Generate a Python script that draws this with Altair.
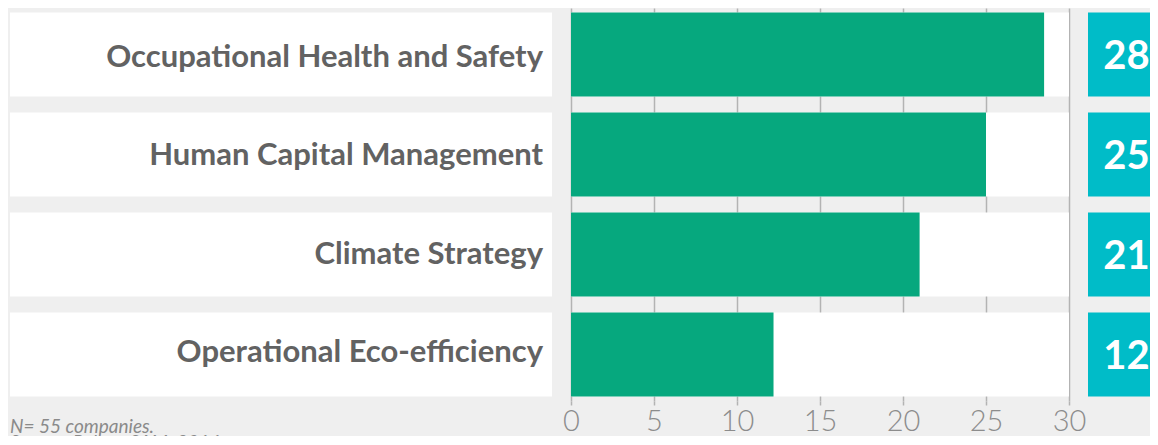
import altair as alt
import pandas as pd

categories = [
    "Occupational Health and Safety",
    "Human Capital Management",
    "Climate Strategy",
    "Operational Eco-efficiency",
]
values = [28.5, 25.0, 21.0, 12.2]
value_labels = ["28", "25", "21", "12"]
axis_max = [30, 30, 30, 30]
tick_values = [0, 5, 10, 15, 20, 25, 30]
footnotes = ["N= 55 companies.", "Source: RobecoSAM, 2016."]
footnote_rows = [0, 1]

df = pd.DataFrame({
    "category": categories,
    "value": values,
    "label": value_labels,
    "maxv": axis_max,
})

BG = "#efefef"
GREEN = "#06a87e"
TEAL = "#00bcc8"
H = 393          # plot height of the bar panels
H_LEFT = 428     # left panel height (rows + footnotes)

band_kw = dict(domain=categories, paddingInner=0.16, paddingOuter=0.045)
yenc = alt.Y("category:N", sort=None, scale=alt.Scale(**band_kw), axis=None)
yenc_left = alt.Y("category:N", sort=None, scale=alt.Scale(range=[0, H], **band_kw), axis=None)

# ---- left panel: category labels on white bands + footnotes
W_LEFT = 542
left_band = alt.Chart(df).mark_bar(color="white").encode(
    y=yenc_left, x=alt.value(0), x2=alt.value(W_LEFT)
)
left_text = alt.Chart(df).mark_text(
    align="right", baseline="middle", font="Lato", fontSize=31,
    fontWeight="bold", color="#626262", dy=1
).encode(y=yenc_left, x=alt.value(W_LEFT - 9), text="category:N")

foot_df = pd.DataFrame({"note": footnotes, "row": footnote_rows})
foot = alt.Chart(foot_df).mark_text(
    align="left", baseline="middle", font="Lato", fontSize=19,
    fontStyle="italic", color="#8a8a8a", clip=True
).encode(
    x=alt.value(0),
    y=alt.Y("row:Q", scale=alt.Scale(domain=[0, 1], range=[419, 435]), axis=None),
    text="note:N",
)
left = alt.layer(left_band, left_text, foot).properties(
    width=W_LEFT, height=H_LEFT
).resolve_scale(y="independent")

# ---- middle panel: bars
W_MID = 498
xscale = alt.Scale(domain=[0, 30], nice=False, zero=True)
xaxis = alt.Axis(
    values=tick_values, grid=True, gridColor="#b3b3b3", gridWidth=1.5,
    domain=False, ticks=True, tickColor="#b3b3b3", tickWidth=1.5, tickSize=4,
    labelFont="Lato", labelFontWeight=300, labelFontSize=29, labelColor="#8c8c8c",
    labelPadding=2, title=None, labelFlush=False,
)
mid_band = alt.Chart(df).mark_bar(color="white").encode(
    y=yenc, x=alt.X("maxv:Q", scale=xscale, axis=xaxis)
)
mid_bar = alt.Chart(df).mark_bar(color=GREEN).encode(
    y=yenc, x=alt.X("value:Q", scale=xscale)
)
mid = alt.layer(mid_band, mid_bar).properties(width=W_MID, height=H)

# ---- right panel: value boxes
W_RIGHT = 62
right_box = alt.Chart(df).mark_bar(color=TEAL).encode(
    y=yenc, x=alt.value(0), x2=alt.value(W_RIGHT)
)
right_text = alt.Chart(df).mark_text(
    align="center", baseline="middle", font="Lato", fontSize=40,
    fontWeight="bold", color="white", dy=2
).encode(y=yenc, x=alt.value(38.5), text="label:N")
right = alt.layer(right_box, right_text).properties(width=W_RIGHT, height=H)

chart = alt.hconcat(left, mid, right, spacing=19, bounds="flush").properties(
    background=BG,
    padding={"left": 2, "top": 0, "right": 0, "bottom": 0},
).configure_view(stroke=None)

chart.save("out.html", embed_options={"renderer": "svg", "actions": False})
